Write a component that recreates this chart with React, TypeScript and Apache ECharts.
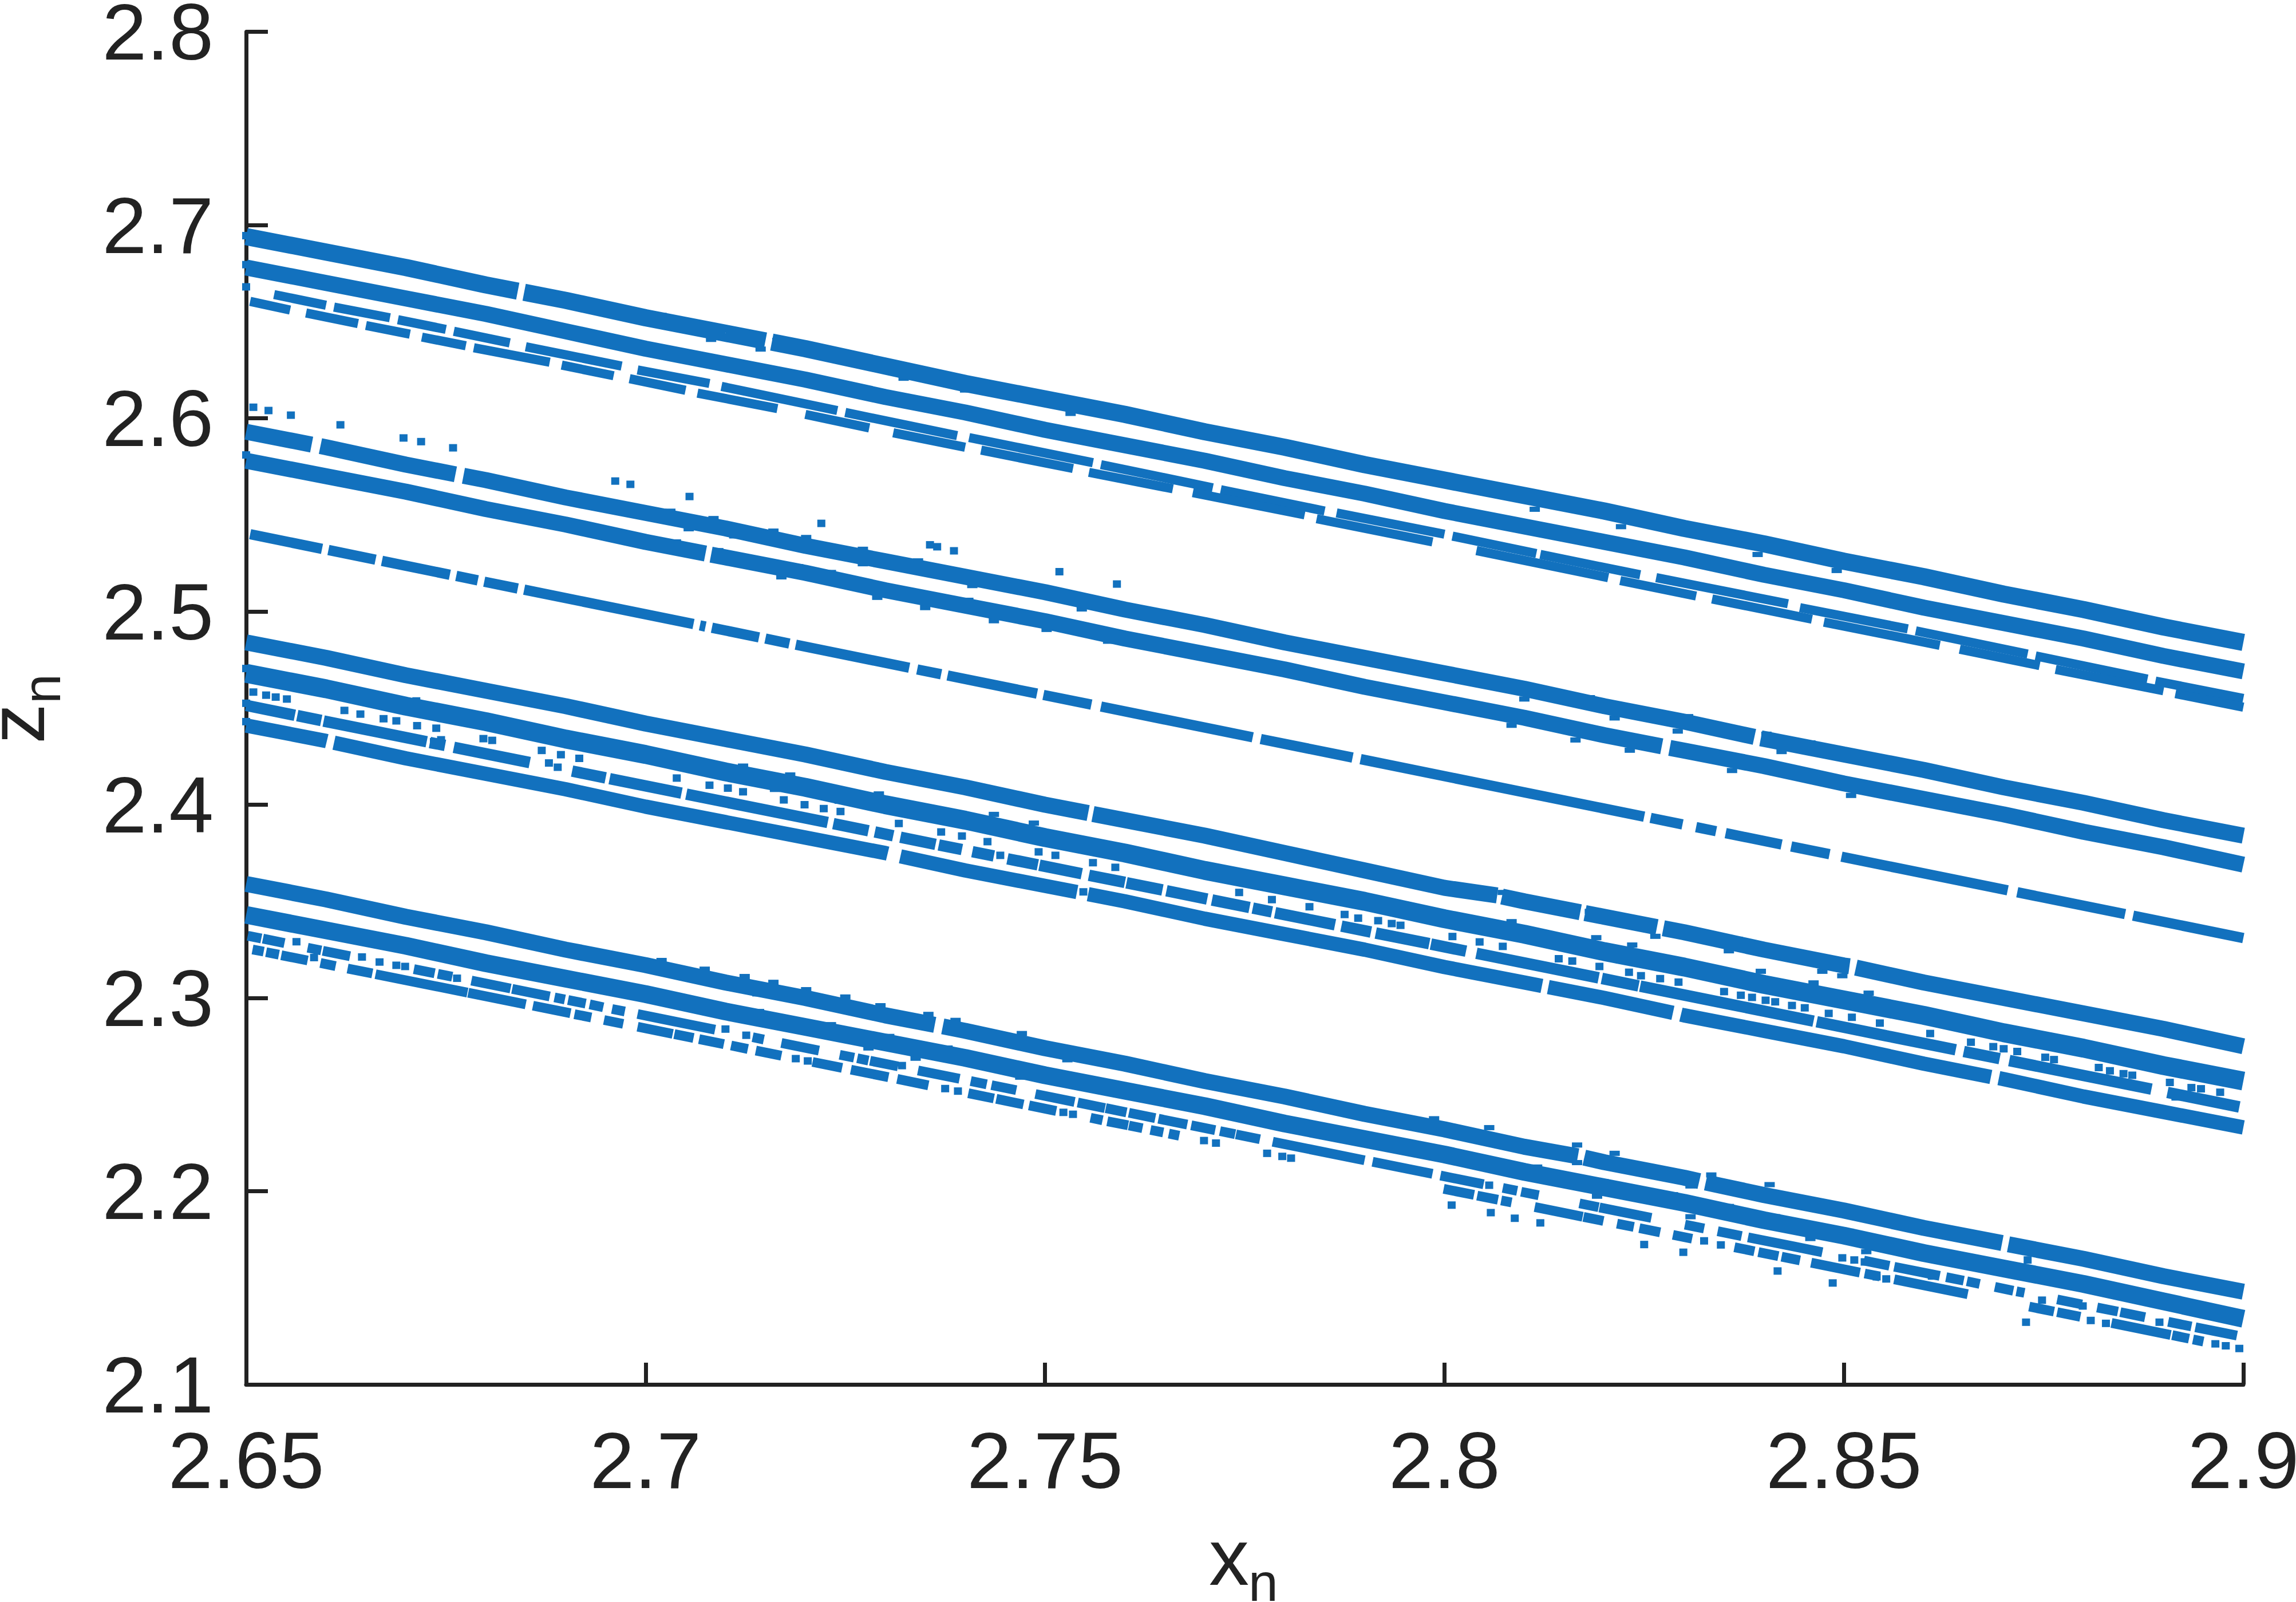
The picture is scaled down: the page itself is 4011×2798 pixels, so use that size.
import React, { useEffect, useRef } from "react";
import * as echarts from "echarts";

const xTickValues = [2.65, 2.7, 2.75, 2.8, 2.85, 2.9];
const yTickValues = [2.1, 2.2, 2.3, 2.4, 2.5, 2.6, 2.7, 2.8];
const xName = ["x", "n"];
const yName = ["z", "n"];

// each strand: runs of x,y,x,y...; a run ends where the strand has a gap
const bandA1 = [
  [2.65,2.694,2.66,2.686,2.67,2.678,2.68,2.669,2.684,2.6658],
  [2.6848,2.6652,2.69,2.661,2.70,2.652,2.71,2.644,2.715,2.640],
  [2.7158,2.6394,2.72,2.636,2.73,2.627,2.74,2.618,2.75,2.610,2.76,2.602,2.77,2.593,2.78,2.585,2.79,2.576,2.80,2.568,2.81,2.560,2.82,2.552,2.83,2.543,2.84,2.535,2.85,2.526,2.86,2.518,2.87,2.509,2.88,2.501,2.89,2.492,2.90,2.484],
];
const bandA2 = [
  [2.65,2.678,2.66,2.670,2.67,2.662,2.68,2.654,2.69,2.645,2.70,2.636,2.71,2.628,2.72,2.620,2.73,2.611,2.74,2.603,2.75,2.594,2.76,2.586,2.77,2.578,2.78,2.569,2.79,2.561,2.80,2.552,2.81,2.544,2.82,2.536,2.83,2.528,2.84,2.519,2.85,2.511,2.86,2.502,2.87,2.494,2.88,2.486,2.89,2.477,2.90,2.469],
];
const bandA3a = [
  [2.6535,2.664,2.66,2.6585],[2.661,2.6575,2.668,2.652],[2.669,2.651,2.675,2.646],[2.676,2.645,2.683,2.639],
  [2.685,2.637,2.697,2.627],[2.699,2.625,2.708,2.618],[2.7095,2.6165,2.724,2.604],[2.725,2.603,2.739,2.591],
  [2.7405,2.59,2.756,2.577],[2.757,2.576,2.771,2.564],[2.772,2.563,2.785,2.552],[2.7865,2.551,2.80,2.54],
  [2.801,2.539,2.8115,2.53],[2.812,2.5295,2.8245,2.519],[2.8265,2.5175,2.843,2.504],[2.8445,2.502,2.858,2.491],
  [2.859,2.49,2.873,2.478],[2.874,2.477,2.888,2.465],[2.889,2.464,2.90,2.455],
];
const bandA3b = [
  [2.6505,2.6605,2.6555,2.656],[2.6575,2.6545,2.664,2.649],[2.665,2.648,2.6705,2.6435],[2.672,2.642,2.6775,2.6375],
  [2.6785,2.6365,2.688,2.629],[2.6895,2.6275,2.696,2.622],[2.698,2.6205,2.705,2.6145],[2.7065,2.613,2.7165,2.605],
  [2.72,2.602,2.728,2.595],[2.731,2.5925,2.74,2.585],[2.742,2.5835,2.7535,2.574],[2.7555,2.572,2.766,2.5635],
  [2.7685,2.5615,2.7825,2.55],[2.784,2.548,2.7985,2.536],[2.804,2.5315,2.8205,2.5175],[2.822,2.516,2.8315,2.508],
  [2.8335,2.5065,2.846,2.496],[2.8475,2.4945,2.862,2.4825],[2.8645,2.4805,2.8745,2.472],[2.8765,2.47,2.89,2.459],[2.8915,2.4575,2.90,2.4505],
];
const bandB1 = [
  [2.65,2.593,2.6582,2.5864],[2.6593,2.5856,2.66,2.585,2.67,2.576,2.6762,2.571],
  [2.6772,2.5702,2.68,2.568,2.69,2.559,2.70,2.551,2.71,2.543,2.72,2.534,2.73,2.526,2.74,2.518,2.75,2.510,2.76,2.501,2.77,2.493,2.78,2.484,2.79,2.476,2.80,2.468,2.81,2.460,2.82,2.451,2.83,2.443,2.8388,2.4351],
  [2.8396,2.4344,2.85,2.426,2.86,2.418,2.87,2.409,2.88,2.401,2.89,2.392,2.90,2.384],
];
const bandB2 = [
  [2.65,2.578,2.66,2.570,2.67,2.562,2.68,2.553,2.69,2.545,2.70,2.536,2.7075,2.530],
  [2.7082,2.5294,2.71,2.528,2.72,2.520,2.73,2.511,2.74,2.503,2.75,2.495,2.76,2.486,2.77,2.478,2.78,2.470,2.79,2.461,2.80,2.453,2.81,2.445,2.82,2.436,2.8272,2.4302],
  [2.8282,2.4294,2.83,2.428,2.84,2.420,2.85,2.411,2.86,2.403,2.87,2.395,2.88,2.386,2.89,2.378,2.90,2.369],
];
const bandB3 = [
  [2.6505,2.540,2.6595,2.5324],[2.6603,2.5318,2.6662,2.5268],[2.667,2.5262,2.6755,2.519],[2.6763,2.5184,2.679,2.5161],
  [2.6798,2.5154,2.684,2.5119],[2.6848,2.5113,2.706,2.4935],[2.7068,2.4928,2.7075,2.4922],[2.7083,2.4916,2.7142,2.4866],
  [2.715,2.486,2.718,2.4834],[2.7188,2.4828,2.733,2.4709],[2.734,2.470,2.737,2.4675],[2.7378,2.4669,2.749,2.4575],
  [2.7498,2.4568,2.7558,2.4518],[2.757,2.4508,2.776,2.4349],[2.777,2.434,2.7885,2.4244],[2.7895,2.4236,2.825,2.3938],
  [2.8258,2.3932,2.8298,2.3898],[2.8315,2.3884,2.834,2.3863],[2.8352,2.3853,2.8422,2.3794],[2.8434,2.3784,2.8482,2.3744],
  [2.8497,2.3731,2.8705,2.3557],[2.8717,2.3547,2.8852,2.3434],[2.8862,2.3426,2.90,2.331],
];
const bandC1 = [
  [2.65,2.484,2.66,2.476,2.67,2.467,2.68,2.459,2.69,2.451,2.70,2.442,2.71,2.434,2.72,2.426,2.73,2.417,2.74,2.409,2.75,2.400,2.7554,2.3957],
  [2.756,2.3952,2.76,2.392,2.77,2.384,2.78,2.375,2.79,2.366,2.80,2.357,2.8066,2.3531],
  [2.8072,2.3525,2.81,2.350,2.817,2.3444],[2.8176,2.3439,2.82,2.342,2.8266,2.3367],
  [2.8274,2.3361,2.83,2.334,2.84,2.325,2.85,2.3168,2.8507,2.3164],[2.8515,2.3157,2.86,2.308,2.87,2.300,2.88,2.292,2.89,2.284,2.90,2.275],
];
const bandC2 = [
  [2.65,2.468,2.66,2.460,2.67,2.451,2.68,2.443,2.69,2.434,2.70,2.426,2.71,2.417,2.72,2.409,2.73,2.400,2.74,2.392,2.75,2.383,2.76,2.375,2.77,2.366,2.78,2.358,2.79,2.350,2.80,2.341,2.81,2.333,2.82,2.324,2.83,2.316,2.84,2.307,2.85,2.299,2.86,2.291,2.87,2.282,2.88,2.274,2.89,2.265,2.90,2.257],
];
const bandC3 = [
  [2.65,2.4514,2.6561,2.4463],[2.6564,2.4461,2.6594,2.4436],[2.6597,2.4433,2.6726,2.4326],[2.673,2.4322,2.6749,2.4307],
  [2.676,2.4297,2.6855,2.4218],[2.6908,2.4174,2.695,2.4139],[2.6955,2.4135,2.7045,2.406],[2.7051,2.4055,2.7228,2.3908],
  [2.7235,2.3902,2.7279,2.3865],[2.7287,2.3859,2.731,2.3839],[2.7319,2.3832,2.7363,2.3795],[2.7367,2.3792,2.7396,2.3768],
  [2.7409,2.3757,2.7436,2.3735],[2.7453,2.372,2.7491,2.3689],[2.7493,2.3687,2.7546,2.3643],[2.7555,2.3635,2.76,2.3598],
  [2.7602,2.3596,2.7647,2.3559],[2.7652,2.3555,2.7703,2.3512],[2.7709,2.3507,2.7756,2.3468],[2.776,2.3465,2.7784,2.3445],
  [2.7788,2.3441,2.7863,2.3379],[2.7871,2.3372,2.7908,2.3341],[2.7914,2.3336,2.7981,2.3281],[2.7983,2.3279,2.8027,2.3242],
  [2.804,2.3231,2.8193,2.3104],[2.8197,2.3101,2.8243,2.3062],[2.8245,2.3061,2.8341,2.2981],[2.8341,2.2981,2.8462,2.288],
  [2.8466,2.2877,2.8553,2.2804],[2.8553,2.2804,2.864,2.2732],[2.865,2.2723,2.8695,2.2686],[2.8707,2.2676,2.8885,2.2528],[2.8905,2.2511,2.8995,2.2436],
];
const bandC4 = [
  [2.65,2.441,2.66,2.433,2.6601,2.4329],[2.661,2.4321,2.67,2.424,2.68,2.416,2.69,2.408,2.70,2.399,2.71,2.391,2.72,2.383,2.73,2.375,2.7303,2.3747],
  [2.7319,2.3733,2.74,2.366,2.75,2.358,2.754,2.3548],[2.7554,2.3537,2.76,2.350,2.77,2.341,2.78,2.333,2.79,2.325,2.80,2.316,2.81,2.308,2.8122,2.3062],
  [2.813,2.3056,2.82,2.300,2.8286,2.2923],[2.8296,2.2914,2.83,2.291,2.84,2.283,2.85,2.275,2.86,2.266,2.8684,2.2591],
  [2.8694,2.2585,2.87,2.258,2.88,2.249,2.89,2.241,2.90,2.233],
];
const bandD1 = [
  [2.65,2.359,2.66,2.351,2.67,2.342,2.68,2.334,2.69,2.325,2.70,2.317,2.71,2.308,2.72,2.300,2.73,2.291,2.7362,2.2861],
  [2.7372,2.2853,2.74,2.283,2.75,2.274,2.76,2.266,2.77,2.257,2.78,2.249,2.79,2.240,2.80,2.232,2.81,2.223,2.8167,2.2181],
  [2.8175,2.2174,2.82,2.215,2.83,2.207,2.8319,2.2052],[2.8327,2.2045,2.84,2.198,2.85,2.190,2.86,2.181,2.8698,2.1732],
  [2.8706,2.1725,2.88,2.165,2.89,2.156,2.90,2.148],
];
const bandD2 = [
  [2.65,2.343,2.66,2.335,2.67,2.327,2.68,2.318,2.69,2.310,2.70,2.302,2.71,2.293,2.72,2.285,2.73,2.277,2.74,2.269,2.75,2.260,2.76,2.252,2.77,2.244,2.78,2.235,2.79,2.227,2.80,2.219,2.81,2.210,2.82,2.202,2.83,2.194,2.84,2.185,2.85,2.177,2.86,2.168,2.87,2.160,2.88,2.152,2.89,2.143,2.90,2.134],
];
const bandD3 = [
  [2.6502,2.3322,2.6519,2.3308],[2.6521,2.3307,2.6548,2.3284],[2.6577,2.326,2.6594,2.3246],[2.6596,2.3244,2.663,2.3216],
  [2.671,2.3149,2.6736,2.3128],[2.674,2.3125,2.6758,2.311],[2.6782,2.309,2.6831,2.3049],[2.6833,2.3047,2.688,2.3008],
  [2.6886,2.3003,2.6899,2.2992],[2.6903,2.2989,2.6925,2.2971],[2.693,2.2967,2.6947,2.2952],[2.6958,2.2943,2.6974,2.293],
  [2.699,2.2917,2.7016,2.2895,2.7087,2.2836],[2.7134,2.2797,2.7148,2.2785],[2.717,2.2767,2.7217,2.2728],[2.7243,2.2706,2.7261,2.2691],
  [2.7265,2.2688,2.7279,2.2676],[2.7281,2.2675,2.7316,2.2646],[2.7341,2.2625,2.7393,2.2582],[2.7407,2.257,2.7427,2.2553],
  [2.7433,2.2549,2.7464,2.2523],[2.7488,2.2503,2.7537,2.2462],[2.7541,2.2459,2.7575,2.243],[2.7576,2.243,2.7602,2.2408],
  [2.7605,2.2406,2.7638,2.2378],[2.7642,2.2375,2.7678,2.2345],[2.7683,2.2341,2.7713,2.2316],[2.7719,2.2311,2.7738,2.2295],
  [2.7739,2.2294,2.7769,2.2269],[2.7785,2.2256,2.79,2.216],[2.791,2.2152,2.7985,2.209],[2.7995,2.2081,2.8049,2.2036],
  [2.8073,2.2017,2.8091,2.2002],[2.8096,2.1997,2.8118,2.1979],[2.8169,2.1937,2.8193,2.1917],[2.8194,2.1916,2.8243,2.1875],
  [2.8243,2.1875,2.8259,2.1862],[2.8301,2.1827,2.8325,2.1807],[2.8342,2.1793,2.8372,2.1768],[2.838,2.1761,2.8436,2.1715],
  [2.8436,2.1715,2.8473,2.1684],[2.8525,2.1641,2.8557,2.1614],[2.8563,2.1609,2.862,2.1562],[2.8628,2.1555,2.865,2.1537],
  [2.8654,2.1534,2.867,2.152],[2.8689,2.1505,2.8712,2.1485],[2.8716,2.1482,2.8726,2.1474],[2.8767,2.144,2.8798,2.1414],
  [2.8817,2.1398,2.8843,2.1377],[2.8846,2.1374,2.8877,2.1348],[2.8906,2.1324,2.8935,2.13],[2.894,2.1296,2.8992,2.1253],
];
const bandD4 = [
  [2.6508,2.3251,2.6522,2.324],[2.6525,2.3237,2.6541,2.3224],[2.6544,2.3221,2.6577,2.3194],[2.6593,2.3181,2.6612,2.3165],
  [2.6627,2.3152,2.6658,2.3127],[2.6662,2.3123,2.6777,2.3028],[2.6778,2.3027,2.685,2.2967],[2.6859,2.296,2.6906,2.2921],
  [2.6911,2.2916,2.6932,2.2899],[2.6948,2.2886,2.6972,2.2866],[2.699,2.2851,2.7034,2.2814],[2.7036,2.2813,2.706,2.2793],
  [2.7067,2.2787,2.7098,2.2761],[2.7107,2.2754,2.7128,2.2736],[2.7138,2.2728,2.717,2.2701],[2.7209,2.2669,2.7246,2.2638],
  [2.7257,2.2629,2.7304,2.259],[2.7315,2.2581,2.7354,2.2548],[2.7404,2.2507,2.7436,2.248],[2.7439,2.2478,2.7473,2.2449],
  [2.748,2.2444,2.7514,2.2415],[2.7557,2.238,2.7572,2.2367],[2.7578,2.2362,2.7604,2.2341],[2.7605,2.234,2.7622,2.2326],
  [2.7632,2.2317,2.7648,2.2304],[2.7655,2.2298,2.7668,2.2287],[2.7999,2.2012,2.8037,2.1981],[2.8041,2.1977,2.8067,2.1956],
  [2.8071,2.1952,2.8084,2.1942],[2.8113,2.1918,2.816,2.1879],[2.816,2.1879,2.8173,2.1868],[2.8174,2.1867,2.8199,2.1846],
  [2.8216,2.1832,2.8237,2.1815],[2.8244,2.1809,2.827,2.1787],[2.8286,2.1774,2.831,2.1754],[2.8363,2.171,2.8388,2.1689],
  [2.8393,2.1685,2.8418,2.1664],[2.8422,2.1661,2.8445,2.1642],[2.8459,2.163,2.852,2.1579],[2.8526,2.1574,2.8545,2.1559],
  [2.8563,2.1544,2.8655,2.1467],[2.8732,2.1403,2.8763,2.1377],[2.8767,2.1374,2.8796,2.135],[2.8835,2.1318,2.8909,2.1256],
  [2.8911,2.1255,2.8932,2.1237],[2.8937,2.1233,2.895,2.1222],
];
// single isolated points, x,y,x,y...
const isolatedTop = [
  2.6509,2.6057,2.6528,2.604,2.6556,2.6016,2.6618,2.5966,2.6697,2.5898,2.6719,2.5879,2.6759,2.5847,2.6962,2.5675,2.6981,2.5658,
  2.7055,2.5595,2.722,2.5456,2.7356,2.5345,2.7365,2.5335,2.7386,2.5314,2.7518,2.5206,2.759,2.5142,
  2.65,2.668,2.65,2.6945,2.65,2.6795,2.65,2.581,2.65,2.4705,2.65,2.4525,2.65,2.443,
];
const isolatedC = [
  2.6509,2.4583,2.6525,2.4567,2.6537,2.4557,2.6551,2.4547,2.6623,2.4488,2.6643,2.4469,2.6672,2.4445,2.6688,2.4434,2.6713,2.4537,2.6698,2.4501,
  2.6714,2.4409,2.6738,2.4396,2.6744,2.4336,2.6735,2.4326,2.6797,2.4342,2.6808,2.4333,2.687,2.4281,2.6894,2.4259,2.6917,2.424,2.6879,2.4216,2.689,2.4194,
  2.7039,2.4138,2.708,2.4101,2.7103,2.4086,2.7122,2.4067,2.7173,2.4025,2.7199,2.40,2.7223,2.398,2.7244,2.3965,2.7317,2.3903,2.737,2.3859,2.7396,2.3838,
  2.7428,2.3809,2.7444,2.3738,2.7492,2.3756,2.7513,2.3738,2.756,2.37,2.7548,2.3549,2.7588,2.3676,2.7743,2.3546,2.7784,2.3509,2.7831,2.3472,2.7875,2.3432,
  2.7892,2.3413,2.7917,2.34,2.7934,2.3385,2.7945,2.3376,2.801,2.3318,2.8044,2.329,2.8073,2.3267,2.8143,2.3203,2.816,2.3191,2.8194,2.3163,2.8231,2.3133,
  2.8246,2.3115,2.827,2.31,2.8293,2.3082,2.835,2.3033,2.8371,2.3014,2.8385,2.3003,2.8402,2.2988,2.8414,2.298,2.8435,2.2961,2.8451,2.2949,2.8481,2.292,
  2.851,2.29,2.8545,2.287,2.8444,2.2805,2.8608,2.2816,2.8659,2.2771,2.8687,2.2748,2.87,2.2737,2.8717,2.2723,2.8752,2.2693,2.8763,2.2681,2.8819,2.264,
  2.8833,2.2623,2.885,2.2608,2.8861,2.26,2.8908,2.2563,2.8935,2.2536,2.8947,2.253,2.8971,2.2512,2.8915,2.2488,
];
const isolatedD = [
  2.6563,2.3291,2.6585,2.3209,2.6645,2.3212,2.6667,2.3186,2.6688,2.3169,2.6699,2.3163,2.6764,2.3102,2.71,2.2839,2.7126,2.2807,2.7321,2.265,
  2.7188,2.2686,2.7203,2.2674,2.7375,2.2531,2.7391,2.2518,2.7523,2.2408,2.7535,2.2398,2.7699,2.2262,2.7714,2.2249,2.7778,2.2196,2.7797,2.218,2.7808,2.2171,
  2.8009,2.1928,2.8058,2.1889,2.8088,2.186,2.812,2.1836,2.825,2.1724,2.8299,2.1684,2.8417,2.1587,2.8486,2.1525,2.8346,2.1722,2.8325,2.1743,
  2.8056,2.2031,2.8498,2.1655,2.8513,2.1644,2.8526,2.1634,2.8535,2.1567,2.8541,2.1557,2.8553,2.1546,2.861,2.1561,
  2.8728,2.1322,2.8809,2.1331,2.8828,2.1316,2.8895,2.1322,2.873,2.1644,2.8748,2.1436,2.8799,2.1406,2.8965,2.121,2.8978,2.12,2.8995,2.1186,
];
// points that stick out of the dense strands' edges
const edgeA = [
  2.702,2.6532,2.7038,2.6514,2.7082,2.6464,2.7096,2.6456,2.7142,2.6411,2.7165,2.6403,2.7186,2.6388,2.7318,2.6275,2.7396,2.621,2.7574,2.6063,
  2.7082,2.6408,2.7144,2.6358,2.7323,2.6207,2.74,2.6146,2.7532,2.6025,
  2.8001,2.5703,2.8052,2.5658,2.8089,2.5628,2.818,2.554,2.8279,2.5469,2.8361,2.5401,2.8429,2.534,2.8502,2.528,2.8542,2.5247,
  2.8113,2.5529,2.8221,2.5439,2.8392,2.5295,2.8491,2.5212,
];
const edgeB = [
  2.7031,2.5519,2.7085,2.5481,2.7054,2.5428,2.7111,2.5391,2.716,2.5416,2.7201,2.5383,2.7272,2.5322,2.7272,2.5247,2.7341,2.5262,2.7409,2.5134,2.7546,2.5013,
  2.7038,2.536,2.7091,2.5315,2.7191,2.5232,2.717,2.5179,2.7232,2.5202,2.729,2.5073,2.735,2.502,2.7404,2.5058,2.7436,2.4952,2.7502,2.4907,2.7579,2.4846,
  2.8034,2.4675,2.81,2.4622,2.8182,2.4554,2.8239,2.4494,2.8305,2.4456,2.8403,2.4365,2.8458,2.432,2.81,2.4547,2.8213,2.4449,2.8292,2.4381,2.8422,2.4275,
  2.8338,2.4267,2.836,2.4177,2.8447,2.4177,2.8509,2.4048,2.8232,2.4282,2.8084,2.4411,2.8164,2.4335,
];
const edgeC = [
  2.7285,2.4207,2.7122,2.42,2.7181,2.4154,2.7292,2.4056,2.7436,2.395,2.7486,2.3905,2.7093,2.4147,2.7162,2.4079,2.7243,2.4018,2.7418,2.3882,2.7528,2.3784,
  2.8073,2.3546,2.8182,2.3448,2.8323,2.3342,2.8367,2.3304,2.8488,2.3198,2.8356,2.3244,2.8473,2.3138,2.8498,2.3115,2.8264,2.3319,
  2.8084,2.3395,2.819,2.3312,2.8235,2.3274,2.8396,2.3138,2.8462,2.3078,2.8531,2.3025,2.8089,2.3312,2.8221,2.3191,2.8385,2.3055,2.8451,2.3002,
];
const edgeD = [
  2.702,2.3194,2.7074,2.3149,2.7124,2.3111,2.716,2.3081,2.7201,2.3043,2.725,2.3005,2.714,2.3021,2.7294,2.296,2.7354,2.2915,2.7388,2.2884,2.7471,2.2816,
  2.7142,2.293,2.7232,2.2862,2.7305,2.2801,2.7378,2.2741,2.7279,2.2741,2.7338,2.2688,2.7469,2.259,2.7528,2.268,
  2.7987,2.2375,2.8056,2.2329,2.8166,2.2239,2.8213,2.2196,2.8334,2.2084,2.8407,2.2034,2.8166,2.2148,2.8308,2.2027,
  2.8116,2.2125,2.8199,2.205,2.8286,2.1982,2.8356,2.1921,2.8414,2.1868,2.8506,2.1793,2.8458,2.1755,2.8528,2.1687,2.8191,2.1974,2.8308,2.1868,
];

const BLUE = "#1271be";
const INK = "#222222";
const FONT = '"Liberation Sans", Arial, sans-serif';

const flatten = (runs: number[][]) => {
  const out: (number | null)[][] = [];
  runs.forEach((run) => {
    for (let i = 0; i + 1 < run.length; i += 2) out.push([run[i], run[i + 1]]);
    out.push([null, null]);
  });
  return out;
};
const pairs = (flat: number[]) => {
  const out: number[][] = [];
  for (let i = 0; i + 1 < flat.length; i += 2) out.push([flat[i], flat[i + 1]]);
  return out;
};
const strand = (runs: number[][], width: number) => ({
  type: "line",
  data: flatten(runs),
  showSymbol: false,
  symbol: "none",
  clip: false,
  silent: true,
  connectNulls: false,
  lineStyle: { color: BLUE, width, cap: "butt", join: "bevel" },
});
const dots = (list: number[], size: number[]) => ({
  type: "scatter",
  data: pairs(list),
  symbol: "rect",
  symbolSize: size,
  clip: false,
  silent: true,
  itemStyle: { color: BLUE, opacity: 1 },
});
const label = (x: number, y: number, text: string, size: number, rotation = 0) => ({
  type: "text",
  x,
  y,
  rotation,
  style: {
    text,
    fill: INK,
    font: `${size}px ${FONT}`,
    align: "left",
    verticalAlign: "middle",
  },
});

export default function App() {
  const ref = useRef<HTMLDivElement>(null);
  useEffect(() => {
    const chart = echarts.init(ref.current!, undefined, { renderer: "svg" });
    chart.setOption({
      animation: false,
      backgroundColor: "#ffffff",
      grid: { left: 430, top: 55.5, width: 3489, height: 2362.5, outerBoundsMode: "none", containLabel: false },
      xAxis: {
        type: "value",
        min: xTickValues[0],
        max: xTickValues[xTickValues.length - 1],
        interval: 0.05,
        splitLine: { show: false },
        axisLine: { onZero: false, lineStyle: { color: INK, width: 7 } },
        axisTick: { inside: true, length: 38, lineStyle: { color: INK, width: 7 } },
        axisLabel: {
          color: INK,
          fontSize: 140,
          fontFamily: FONT,
          margin: 62,
          hideOverlap: false,
          showMinLabel: true,
          showMaxLabel: true,
          formatter: (v: number) => String(+v.toFixed(2)),
        },
      },
      yAxis: {
        type: "value",
        min: yTickValues[0],
        max: yTickValues[yTickValues.length - 1],
        interval: 0.1,
        splitLine: { show: false },
        axisLine: { show: true, onZero: false, lineStyle: { color: INK, width: 7 } },
        axisTick: { show: true, inside: true, length: 38, lineStyle: { color: INK, width: 7 } },
        axisLabel: {
          color: INK,
          fontSize: 140,
          fontFamily: FONT,
          margin: 57,
          showMinLabel: true,
          showMaxLabel: true,
          formatter: (v: number) => String(+v.toFixed(1)),
        },
      },
      graphic: [
        label(2112, 2719.5, xName[0], 140),
        label(2181, 2764, xName[1], 93),
        label(28.5, 1299, yName[0], 140, Math.PI / 2),
        label(73, 1229, yName[1], 93, Math.PI / 2),
      ],
      series: [
        strand(bandA1, 30),
        strand(bandA2, 28),
        strand(bandA3a, 16),
        strand(bandA3b, 16),
        strand(bandB1, 28),
        strand(bandB2, 28),
        strand(bandB3, 18),
        strand(bandC1, 28),
        strand(bandC2, 33),
        strand(bandC3, 20),
        strand(bandC4, 25),
        strand(bandD1, 28),
        strand(bandD2, 31),
        strand(bandD3, 17),
        strand(bandD4, 17),
        dots(isolatedTop, [14, 13]),
        dots(isolatedC, [14, 13]),
        dots(isolatedD, [14, 13]),
        dots(edgeA, [18, 9]),
        dots(edgeB, [18, 9]),
        dots(edgeC, [18, 9]),
        dots(edgeD, [18, 9]),
      ],
    });
    return () => chart.dispose();
  }, []);
  return (
    <div
      ref={ref}
      style={{ position: "absolute", left: 0, top: 0, width: 4011, height: 2798 }}
    />
  );
}
